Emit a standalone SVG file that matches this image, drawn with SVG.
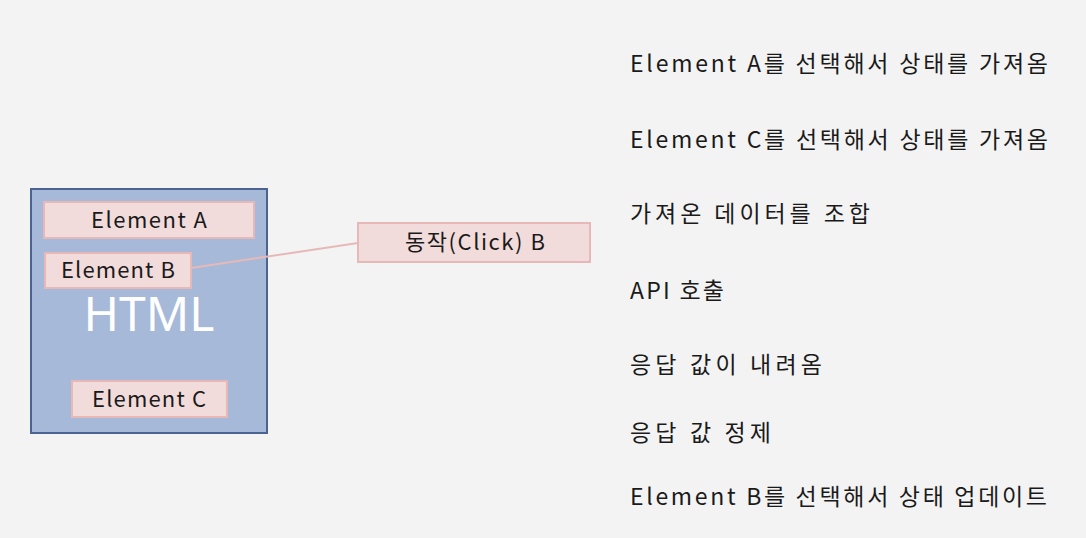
<svg xmlns="http://www.w3.org/2000/svg" width="1086" height="538" viewBox="0 0 1086 538">
<style>
.t{font-family:"Noto Sans CJK KR","Noto Sans",sans-serif;fill:#1a1a1a}
.el{fill:#f2dcdb;stroke:#e6b9b8;stroke-width:2}
.lbl{font-family:"Noto Sans CJK KR","Noto Sans",sans-serif;font-size:22px;fill:#1a1a1a}
.r{font-size:23px}
</style>
<rect width="1086" height="538" fill="#f3f3f3"/>
<g id="html">
<rect x="31" y="189" width="236" height="244" fill="#a6b9d8" stroke="#4a6390" stroke-width="2"/>
<text x="149" y="331" font-family="'Noto Sans','Noto Sans CJK KR',sans-serif" font-size="48" fill="#ffffff" text-anchor="middle">HTML</text>
</g>
<g id="elementA"><rect class="el" x="44" y="202" width="210" height="36"/><text class="lbl" x="91" y="228" textLength="116" lengthAdjust="spacing">Element A</text></g>
<g id="elementB"><rect class="el" x="45" y="253" width="146" height="35"/><text class="lbl" x="61" y="278" textLength="114" lengthAdjust="spacing">Element B</text></g>
<g id="elementC"><rect class="el" x="72" y="381" width="155" height="36"/><text class="lbl" x="92" y="407" textLength="114" lengthAdjust="spacing">Element C</text></g>
<g id="connectors"><line x1="191" y1="268" x2="358" y2="243" stroke="#e6b9b8" stroke-width="2"/></g>
<g id="click"><rect class="el" x="358" y="223" width="232" height="39"/><text class="lbl" x="405" y="250" textLength="140" lengthAdjust="spacing">동작(Click) B</text></g>
<g id="steps" class="t r">
<text x="630" y="72" textLength="418" lengthAdjust="spacing">Element A를 선택해서 상태를 가져옴</text>
<text x="630" y="148" textLength="418" lengthAdjust="spacing">Element C를 선택해서 상태를 가져옴</text>
<text x="630" y="222" textLength="240" lengthAdjust="spacing">가져온 데이터를 조합</text>
<text x="630" y="299" textLength="94" lengthAdjust="spacing">API 호출</text>
<text x="630" y="373" textLength="192" lengthAdjust="spacing">응답 값이 내려옴</text>
<text x="630" y="441" textLength="141" lengthAdjust="spacing">응답 값 정제</text>
<text x="630" y="505" textLength="417" lengthAdjust="spacing">Element B를 선택해서 상태 업데이트</text>
</g>
</svg>
